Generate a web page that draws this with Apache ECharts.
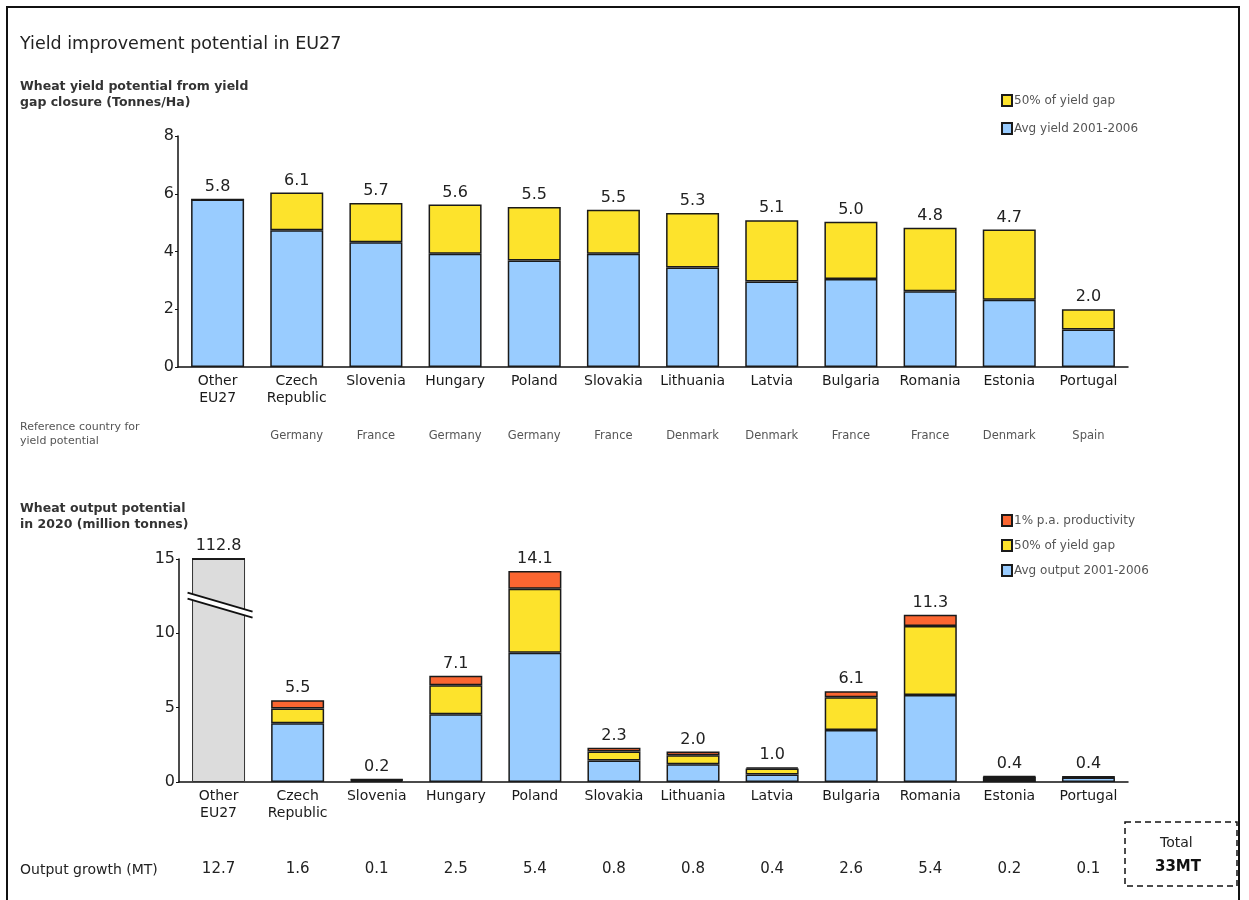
<!DOCTYPE html>
<html>
<head>
<meta charset="utf-8">
<title>Yield improvement potential in EU27</title>
<script src="https://cdn.jsdelivr.net/npm/echarts@6/dist/echarts.min.js"></script>
<style>
  html, body { margin: 0; padding: 0; background: #fff; }
  #chart { width: 1249px; height: 900px; }
</style>
</head>
<body>
<div id="chart"></div>
<script>
const countries = ['Other\nEU27', 'Czech\nRepublic', 'Slovenia', 'Hungary', 'Poland', 'Slovakia', 'Lithuania', 'Latvia', 'Bulgaria', 'Romania', 'Estonia', 'Portugal']
const referenceCountries = ['', 'Germany', 'France', 'Germany', 'Germany', 'France', 'Denmark', 'Denmark', 'France', 'France', 'Denmark', 'Spain']

// top chart - wheat yield (tonnes/ha)
const avgYield = [5.8, 4.74, 4.32, 3.92, 3.69, 3.92, 3.45, 2.96, 3.05, 2.62, 2.33, 1.3]
const yieldGap = [0, 1.3, 1.36, 1.71, 1.85, 1.53, 1.88, 2.12, 1.98, 2.2, 2.43, 0.7]
const yieldTotals = ['5.8', '6.1', '5.7', '5.6', '5.5', '5.5', '5.3', '5.1', '5.0', '4.8', '4.7', '2.0']

// bottom chart - wheat output (million tonnes), Other EU27 drawn cut at 15
const otherOutput = [15, '-', '-', '-', '-', '-', '-', '-', '-', '-', '-', '-']
const avgOutput = [0, 3.95, 0.1, 4.55, 8.7, 1.45, 1.2, 0.5, 3.5, 5.85, 0.2, 0.3]
const outputGap = [0, 1.0, 0.05, 1.95, 4.3, 0.6, 0.6, 0.4, 2.2, 4.65, 0.15, 0.03]
const productivity = [0, 0.55, 0.05, 0.65, 1.2, 0.25, 0.25, 0.1, 0.4, 0.75, 0.05, 0.03]
const outputTotals = ['112.8', '5.5', '0.2', '7.1', '14.1', '2.3', '2.0', '1.0', '6.1', '11.3', '0.4', '0.4']
const outputGrowth = ['12.7', '1.6', '0.1', '2.5', '5.4', '0.8', '0.8', '0.4', '2.6', '5.4', '0.2', '0.1']

const FONT = '"DejaVu Sans", Verdana, sans-serif'
const BLUE = '#99ccff'
const YELLOW = '#fde32c'
const ORANGE = '#fb6631'
const GREY = '#dcdcdc'

const chart = echarts.init(document.getElementById('chart'))

function barStyle(color) {
  return { color: color, borderColor: '#1a1a1a', borderWidth: 1.5 }
}

function totalLabel(totals) {
  return {
    show: true,
    position: 'top',
    distance: 4,
    fontSize: 16,
    color: '#222',
    fontFamily: FONT,
    formatter: (p) => totals[p.dataIndex]
  }
}

const catAxis = (gridIndex) => ({
  type: 'category',
  gridIndex: gridIndex,
  data: countries,
  axisLine: { lineStyle: { color: '#111', width: 1.5 } },
  axisTick: { show: false },
  axisLabel: { interval: 0, fontSize: 14, lineHeight: 17, color: '#1a1a1a', margin: 6, fontFamily: FONT }
})

const rowAxis = (gridIndex, data, offset, fontSize, color) => ({
  type: 'category',
  gridIndex: gridIndex,
  position: 'bottom',
  offset: offset,
  data: data,
  axisLine: { show: false },
  axisTick: { show: false },
  axisLabel: { interval: 0, fontSize: fontSize, color: color, margin: 0, fontFamily: FONT }
})

const valAxis = (gridIndex, max, interval) => ({
  type: 'value',
  gridIndex: gridIndex,
  min: 0,
  max: max,
  interval: interval,
  splitLine: { show: false },
  axisLine: { show: true, lineStyle: { color: '#111', width: 1.5 } },
  axisTick: { show: true, length: 3, lineStyle: { color: '#111' } },
  axisLabel: { fontSize: 16, color: '#222', margin: 4, fontFamily: FONT }
})

const titleText = (text, top, size, color, weight) => ({
  text: text,
  left: 20,
  top: top,
  padding: 0,
  textStyle: { fontSize: size, fontWeight: weight || 'normal', color: color, fontFamily: FONT, lineHeight: Math.round(size * 1.3) }
})

const option = {
  animation: false,
  backgroundColor: '#fff',
  textStyle: { fontFamily: FONT },
  title: [
    titleText('Yield improvement potential in EU27', 33, 17.5, '#222'),
    titleText('Wheat yield potential from yield\ngap closure (Tonnes/Ha)', 79, 12.5, '#333', 'bold'),
    titleText('Reference country for\nyield potential', 420, 11, '#555'),
    titleText('Wheat output potential\nin 2020 (million tonnes)', 501, 12.5, '#333', 'bold'),
    titleText('Output growth (MT)', 861, 14, '#222')
  ],
  legend: [
    {
      orient: 'vertical',
      left: 996,
      top: 89,
      itemWidth: 10,
      itemHeight: 11,
      itemGap: 15,
      icon: 'rect',
      data: ['50% of yield gap', 'Avg yield 2001-2006'],
      textStyle: { fontSize: 12, color: '#555', fontFamily: FONT, padding: [0, 0, 0, -3] }
    },
    {
      orient: 'vertical',
      left: 996,
      top: 509,
      itemWidth: 10,
      itemHeight: 11,
      itemGap: 12,
      icon: 'rect',
      data: ['1% p.a. productivity', '50% of yield gap', 'Avg output 2001-2006'],
      textStyle: { fontSize: 12, color: '#555', fontFamily: FONT, padding: [0, 0, 0, -3] }
    }
  ],
  grid: [
    { left: 178, top: 136, width: 950, height: 231 },
    { left: 179, top: 559, width: 949, height: 223 }
  ],
  xAxis: [
    catAxis(0),
    rowAxis(0, referenceCountries, 63, 11.5, '#555'),
    catAxis(1),
    rowAxis(1, outputGrowth, 80, 15, '#222')
  ],
  yAxis: [
    valAxis(0, 8, 2),
    valAxis(1, 15, 5)
  ],
  series: [
    {
      name: 'Avg yield 2001-2006',
      type: 'bar',
      stack: 'yield',
      xAxisIndex: 0,
      yAxisIndex: 0,
      barWidth: 53,
      data: avgYield,
      itemStyle: barStyle(BLUE)
    },
    {
      name: '50% of yield gap',
      type: 'bar',
      stack: 'yield',
      xAxisIndex: 0,
      yAxisIndex: 0,
      barWidth: 53,
      data: yieldGap,
      itemStyle: barStyle(YELLOW),
      label: totalLabel(yieldTotals)
    },
    {
      name: 'Other EU27',
      type: 'bar',
      stack: 'output',
      xAxisIndex: 2,
      yAxisIndex: 1,
      barWidth: 53,
      data: otherOutput,
      itemStyle: { color: GREY, borderColor: '#333', borderWidth: 1 }
    },
    {
      name: 'Avg output 2001-2006',
      type: 'bar',
      stack: 'output',
      xAxisIndex: 2,
      yAxisIndex: 1,
      barWidth: 53,
      data: avgOutput,
      itemStyle: barStyle(BLUE)
    },
    {
      name: '50% of yield gap',
      type: 'bar',
      stack: 'output',
      xAxisIndex: 2,
      yAxisIndex: 1,
      barWidth: 53,
      data: outputGap,
      itemStyle: barStyle(YELLOW)
    },
    {
      name: '1% p.a. productivity',
      type: 'bar',
      stack: 'output',
      xAxisIndex: 2,
      yAxisIndex: 1,
      barWidth: 53,
      data: productivity,
      itemStyle: barStyle(ORANGE),
      label: totalLabel(outputTotals)
    }
  ]
}

chart.setOption(option)

// axis break mark on the Other EU27 bar, plus frame and total box
const brk = chart.convertToPixel({ xAxisIndex: 2, yAxisIndex: 1 }, [0, 12])
const bx = brk[0]
const by = brk[1]
chart.setOption({
  graphic: [
    {
      type: 'rect',
      shape: { x: 7, y: 7, width: 1232, height: 900 },
      style: { fill: 'none', stroke: '#111', lineWidth: 2 },
      silent: true
    },
    {
      type: 'polygon',
      shape: { points: [[bx - 31, by - 11], [bx + 34, by + 8], [bx + 34, by + 14], [bx - 31, by - 5]] },
      style: { fill: '#fff' },
      z: 100
    },
    {
      type: 'line',
      shape: { x1: bx - 31, y1: by - 11, x2: bx + 34, y2: by + 8 },
      style: { stroke: '#111', lineWidth: 2 },
      z: 101
    },
    {
      type: 'line',
      shape: { x1: bx - 31, y1: by - 5, x2: bx + 34, y2: by + 14 },
      style: { stroke: '#111', lineWidth: 2 },
      z: 101
    },
    {
      type: 'rect',
      shape: { x: 1125, y: 822, width: 112, height: 64 },
      style: { fill: '#fff', stroke: '#111', lineWidth: 1.5, lineDash: [6, 4] }
    },
    {
      type: 'text',
      left: 1160,
      top: 836,
      style: { text: 'Total', fontSize: 14, fill: '#222', fontFamily: FONT }
    },
    {
      type: 'text',
      left: 1155,
      top: 860,
      style: { text: '33MT', fontSize: 15, fontWeight: 'bold', fill: '#111', fontFamily: FONT }
    }
  ]
})

window.addEventListener('resize', () => {
  chart.resize()
})
</script>
</body>
</html>
